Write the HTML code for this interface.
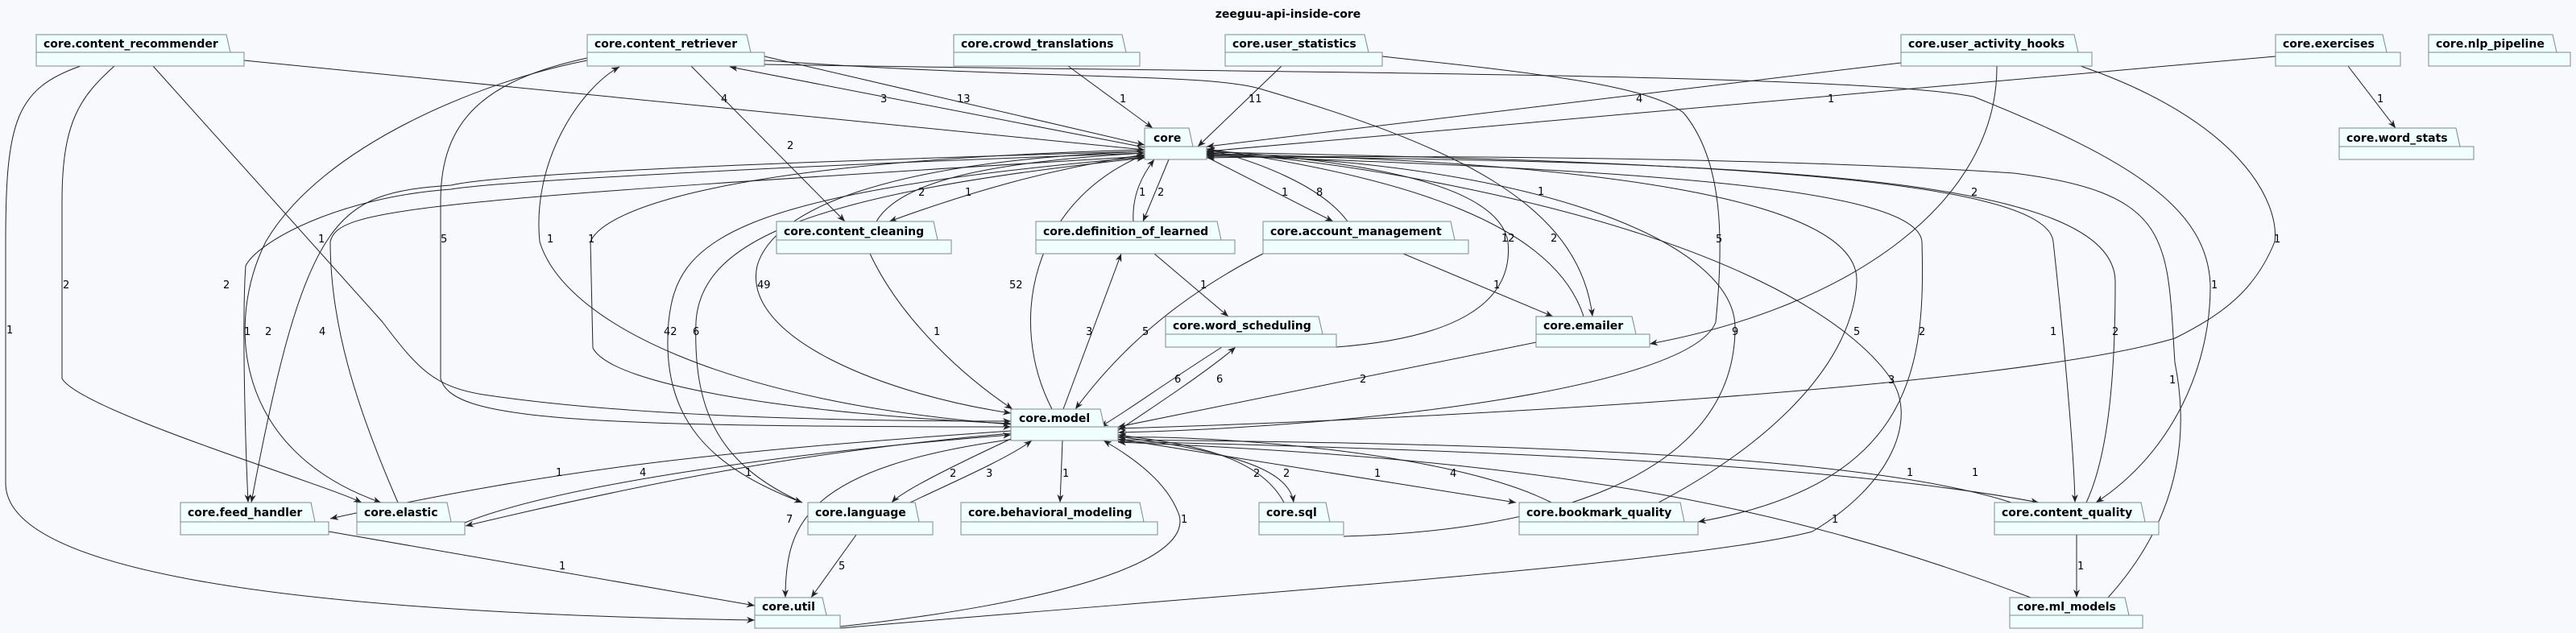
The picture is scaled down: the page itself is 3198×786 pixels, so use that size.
<!DOCTYPE html>
<html><head><meta charset="utf-8"><style>
html,body{margin:0;padding:0;background:#f8f9fd;}
svg{display:block;}
.n rect,.n path{fill:#f0fffe;stroke:#7a8a8a;stroke-width:1;}
.t{font-family:"DejaVu Sans","Liberation Sans",sans-serif;font-weight:bold;font-size:14px;fill:#000;}
.e{fill:none;stroke:#222;stroke-width:1;}
.l{font-family:"DejaVu Sans","Liberation Sans",sans-serif;font-size:13px;fill:#000;}
</style></head><body>
<svg width="3198" height="786" viewBox="0 0 3198 786" xmlns="http://www.w3.org/2000/svg">
<defs><marker id="a" markerWidth="12" markerHeight="10" refX="10" refY="4" orient="auto" markerUnits="userSpaceOnUse"><path d="M0,0 L10,4 L0,8 L3,4 z" fill="#222"/></marker></defs>
<rect width="3198" height="786" fill="#f8f9fd"/>
<text x="1599" y="22" text-anchor="middle" class="t" font-size="14">zeeguu-api-inside-core</text>

<g marker-end="url(#a)">
<path class="e" d="M303,75 L1421,186"/>
<path class="e" d="M100,82 C20,110 7,150 7,300 L7,600 C7,700 300,760 937,770"/>
<path class="e" d="M142,82 C100,120 77,150 77,250 L77,470 C100,510 400,600 449,624"/>
<path class="e" d="M190,82 L475,400 C520,460 540,480 600,490 C800,520 1100,523 1255,523"/>
<path class="e" d="M949,70 L1421,180"/>
<path class="e" d="M1421,183 L906,83"/>
<path class="e" d="M858,82 L1049,275"/>
<path class="e" d="M729,72 C600,100 547,150 547,250 L547,470 C560,520 700,530 1255,530"/>
<path class="e" d="M1255,527 C900,500 700,400 670,300 C660,200 720,110 769,83"/>
<path class="e" d="M729,75 C600,100 400,180 330,300 C280,400 290,560 473,624"/>
<path class="e" d="M949,75 C1300,100 1500,90 1567,111 C1800,180 1960,250 1977,393"/>
<path class="e" d="M949,80 C1500,90 2300,90 2450,120 C2650,200 2740,260 2744,353 C2745,450 2700,560 2602,624"/>
<path class="e" d="M1421,186 C900,200 750,260 733,300 L736,432 C760,480 1000,515 1255,526"/>
<path class="e" d="M1421,188 C1100,200 960,260 940,330 C920,420 1100,490 1255,513"/>
<path class="e" d="M1306,508 C1250,400 1280,250 1421,192"/>
<path class="e" d="M1326,82 L1431,159"/>
<path class="e" d="M1591,82 L1487,182"/>
<path class="e" d="M1716,70 C1900,90 2045,105 2090,140 C2140,200 2140,300 2130,400 C2100,480 1700,530 1388,537"/>
<path class="e" d="M2360,78 L1498,182"/>
<path class="e" d="M2825,70 L1498,188"/>
<path class="e" d="M2479,82 C2480,250 2300,380 2048,427"/>
<path class="e" d="M2583,82 C2780,150 2830,250 2824,300 C2800,360 2760,390 2700,420 C2500,480 1800,520 1388,532"/>
<path class="e" d="M2915,82 L2974,159"/>
<path class="e" d="M1966,393 C1930,280 1750,220 1498,185"/>
<path class="e" d="M1659,431 C1800,420 1880,380 1872,300 C1860,230 1700,200 1498,187"/>
<path class="e" d="M1673,275 C1640,230 1560,200 1498,185"/>
<path class="e" d="M1498,195 L1655,275"/>
<path class="e" d="M1451,198 L1419,275"/>
<path class="e" d="M1407,275 C1405,240 1420,215 1433,198"/>
<path class="e" d="M1088,275 C1120,220 1250,200 1421,190"/>
<path class="e" d="M1421,192 C1300,210 1200,240 1104,275"/>
<path class="e" d="M1421,188 C1000,200 620,215 560,230 C420,240 380,260 312,624"/>
<path class="e" d="M1421,190 C1000,205 620,225 560,235 C420,245 320,300 305,330 C300,400 305,560 308,624"/>
<path class="e" d="M494,624 C440,500 410,400 410,300 C420,260 500,250 1421,194"/>
<path class="e" d="M1421,195 C900,240 840,300 830,400 C820,520 880,580 996,624"/>
<path class="e" d="M996,624 C900,580 860,520 864,400 C870,300 1000,240 1421,196"/>
<path class="e" d="M1255,535 C900,560 700,580 410,644"/>
<path class="e" d="M1255,538 C1000,560 800,600 578,653"/>
<path class="e" d="M577,649 C700,600 1000,560 1255,540"/>
<path class="e" d="M1260,545 C1000,580 975,650 975,742"/>
<path class="e" d="M1063,664 L1007,742"/>
<path class="e" d="M408,660 L937,752"/>
<path class="e" d="M1043,778 C1300,750 1480,700 1464,640 C1450,600 1410,570 1370,547"/>
<path class="e" d="M1043,780 C1500,740 2100,700 2250,660 C2350,600 2380,520 2348,471 C2300,400 2150,300 1800,230 C1650,200 1550,192 1498,190"/>
<path class="e" d="M1319,547 L1316,624"/>
<path class="e" d="M1255,545 C1180,580 1120,610 1107,624"/>
<path class="e" d="M1130,624 C1180,600 1250,570 1281,547"/>
<path class="e" d="M1594,624 C1560,560 1460,550 1388,540"/>
<path class="e" d="M1388,542 C1520,560 1600,580 1606,624"/>
<path class="e" d="M1388,545 L1882,624"/>
<path class="e" d="M1926,624 C1800,560 1500,540 1388,543"/>
<path class="e" d="M2059,624 C2200,550 2300,450 2305,350 C2310,250 2000,200 1498,191"/>
<path class="e" d="M1498,193 C2000,210 2380,230 2386,300 C2390,450 2380,600 2108,648"/>
<path class="e" d="M1668,666 C1900,660 2150,600 2154,411 C2160,300 1900,200 1498,192"/>
<path class="e" d="M1498,189 C2100,200 2540,220 2549,300 C2560,400 2575,560 2576,624"/>
<path class="e" d="M2590,624 C2620,560 2626,450 2626,350 C2626,220 2200,200 1498,194"/>
<path class="e" d="M2578,664 L2578,742"/>
<path class="e" d="M2617,742 C2700,650 2720,550 2700,450 C2690,300 2700,240 2500,215 C2200,195 1700,192 1498,196"/>
<path class="e" d="M1388,548 C1900,560 2300,580 2531,624"/>
<path class="e" d="M2497,624 C2300,560 1800,550 1388,546"/>
<path class="e" d="M2521,742 C2200,620 1900,570 1388,549"/>
<path class="e" d="M1907,425 L1388,530"/>
<path class="e" d="M1742,315 L1928,393"/>
<path class="e" d="M1568,315 C1480,360 1400,420 1335,508"/>
<path class="e" d="M1433,315 L1525,393"/>
<path class="e" d="M1320,508 L1392,315"/>
<path class="e" d="M1080,315 C1120,400 1200,470 1257,508"/>
<path class="e" d="M1517,431 C1440,480 1400,510 1366,530"/>
<path class="e" d="M1380,540 C1440,500 1500,460 1534,431"/>
</g>

<g class="l">
<text x="895" y="127">4</text><text x="8" y="414">1</text><text x="78" y="358">2</text><text x="395" y="301">1</text>
<text x="1188" y="127">13</text><text x="1093" y="127">3</text><text x="977" y="185">2</text><text x="547" y="301">5</text>
<text x="679" y="301">1</text><text x="277" y="358">2</text><text x="1909" y="242">1</text><text x="2745" y="358">1</text>
<text x="730" y="301">1</text><text x="940" y="358">49</text><text x="1253" y="358">52</text><text x="1390" y="127">1</text>
<text x="1550" y="127">11</text><text x="2130" y="301">5</text><text x="2031" y="127">4</text><text x="2269" y="127">1</text>
<text x="2447" y="243">2</text><text x="2823" y="301">1</text><text x="2951" y="127">1</text><text x="1925" y="300">2</text>
<text x="1864" y="300">12</text><text x="1634" y="243">8</text><text x="1591" y="243">1</text><text x="1437" y="243">2</text>
<text x="1414" y="243">1</text><text x="1140" y="243">2</text><text x="1198" y="243">1</text><text x="303" y="416">1</text>
<text x="329" y="416">2</text><text x="396" y="416">4</text><text x="824" y="416">42</text><text x="860" y="416">6</text>
<text x="690" y="591">1</text><text x="794" y="591">4</text><text x="925" y="591">1</text><text x="976" y="649">7</text>
<text x="1041" y="707">5</text><text x="694" y="707">1</text><text x="1466" y="649">1</text><text x="2344" y="476">3</text>
<text x="1319" y="592">1</text><text x="1179" y="592">2</text><text x="1224" y="592">3</text><text x="1556" y="592">2</text>
<text x="1593" y="592">2</text><text x="1706" y="592">1</text><text x="1800" y="592">4</text><text x="2301" y="416">5</text>
<text x="2382" y="416">2</text><text x="2150" y="416">9</text><text x="2545" y="416">1</text><text x="2622" y="416">2</text>
<text x="2579" y="707">1</text><text x="2693" y="476">1</text><text x="2367" y="591">1</text><text x="2448" y="591">1</text>
<text x="2274" y="649">1</text><text x="1688" y="475">2</text><text x="1854" y="358">1</text><text x="1418" y="416">5</text>
<text x="1490" y="358">1</text><text x="1348" y="416">3</text><text x="1159" y="416">1</text><text x="1458" y="475">6</text>
<text x="1510" y="475">6</text>
</g>

<!-- nodes -->
<g class="n">
<path d="M45,65 L45,43 L281,43 L286,65 Z"/><rect x="45" y="65" width="258" height="17"/>
<path d="M729,65 L729,43 L927,43 L932,65 Z"/><rect x="729" y="65" width="220" height="17"/>
<path d="M1184,65 L1184,43 L1393,43 L1398,65 Z"/><rect x="1184" y="65" width="231" height="17"/>
<path d="M1521,65 L1521,43 L1694,43 L1699,65 Z"/><rect x="1521" y="65" width="195" height="17"/>
<path d="M2360,65 L2360,43 L2575,43 L2580,65 Z"/><rect x="2360" y="65" width="237" height="17"/>
<path d="M2825,65 L2825,43 L2958,43 L2963,65 Z"/><rect x="2825" y="65" width="155" height="17"/>
<path d="M3015,65 L3015,43 L3169,43 L3174,65 Z"/><rect x="3015" y="65" width="176" height="17"/>
<path d="M1421,182 L1421,159 L1476,159 L1481,182 Z"/><rect x="1421" y="182" width="77" height="16"/>
<path d="M2904,182 L2904,159 L3049,159 L3054,182 Z"/><rect x="2904" y="182" width="167" height="16"/>
<path d="M964,298 L964,275 L1159,275 L1164,298 Z"/><rect x="964" y="298" width="217" height="17"/>
<path d="M1286,298 L1286,275 L1511,275 L1516,298 Z"/><rect x="1286" y="298" width="247" height="17"/>
<path d="M1568,298 L1568,275 L1801,275 L1806,298 Z"/><rect x="1568" y="298" width="255" height="17"/>
<path d="M1447,415 L1447,393 L1637,393 L1642,415 Z"/><rect x="1447" y="415" width="212" height="16"/>
<path d="M1907,415 L1907,393 L2026,393 L2031,415 Z"/><rect x="1907" y="415" width="141" height="16"/>
<path d="M1255,530 L1255,508 L1366,508 L1371,530 Z"/><rect x="1255" y="530" width="133" height="17"/>
<path d="M224,648 L224,624 L386,624 L391,648 Z"/><rect x="224" y="648" width="184" height="16"/>
<path d="M443,648 L443,624 L555,624 L560,648 Z"/><rect x="443" y="648" width="134" height="16"/>
<path d="M1003,648 L1003,624 L1136,624 L1141,648 Z"/><rect x="1003" y="648" width="155" height="16"/>
<path d="M1193,648 L1193,624 L1415,624 L1420,648 Z"/><rect x="1193" y="648" width="244" height="16"/>
<path d="M1563,648 L1563,624 L1646,624 L1651,648 Z"/><rect x="1563" y="648" width="105" height="16"/>
<path d="M1886,648 L1886,624 L2086,624 L2091,648 Z"/><rect x="1886" y="648" width="222" height="16"/>
<path d="M2476,648 L2476,624 L2658,624 L2663,648 Z"/><rect x="2476" y="648" width="204" height="16"/>
<path d="M937,764 L937,742 L1021,742 L1026,764 Z"/><rect x="937" y="764" width="106" height="16"/>
<path d="M2495,764 L2495,742 L2638,742 L2643,764 Z"/><rect x="2495" y="764" width="165" height="16"/>
</g>
<g class="t">
<text x="54" y="59">core.content_recommender</text>
<text x="738" y="59">core.content_retriever</text>
<text x="1193" y="59">core.crowd_translations</text>
<text x="1530" y="59">core.user_statistics</text>
<text x="2369" y="59">core.user_activity_hooks</text>
<text x="2834" y="59">core.exercises</text>
<text x="3024" y="59">core.nlp_pipeline</text>
<text x="1432" y="176">core</text>
<text x="2913" y="176">core.word_stats</text>
<text x="973" y="292">core.content_cleaning</text>
<text x="1295" y="292">core.definition_of_learned</text>
<text x="1577" y="292">core.account_management</text>
<text x="1456" y="409">core.word_scheduling</text>
<text x="1916" y="409">core.emailer</text>
<text x="1265" y="524">core.model</text>
<text x="233" y="641">core.feed_handler</text>
<text x="452" y="641">core.elastic</text>
<text x="1012" y="641">core.language</text>
<text x="1202" y="641">core.behavioral_modeling</text>
<text x="1572" y="641">core.sql</text>
<text x="1895" y="641">core.bookmark_quality</text>
<text x="2485" y="641">core.content_quality</text>
<text x="946" y="758">core.util</text>
<text x="2504" y="758">core.ml_models</text>
</g>
</svg>
</body></html>
